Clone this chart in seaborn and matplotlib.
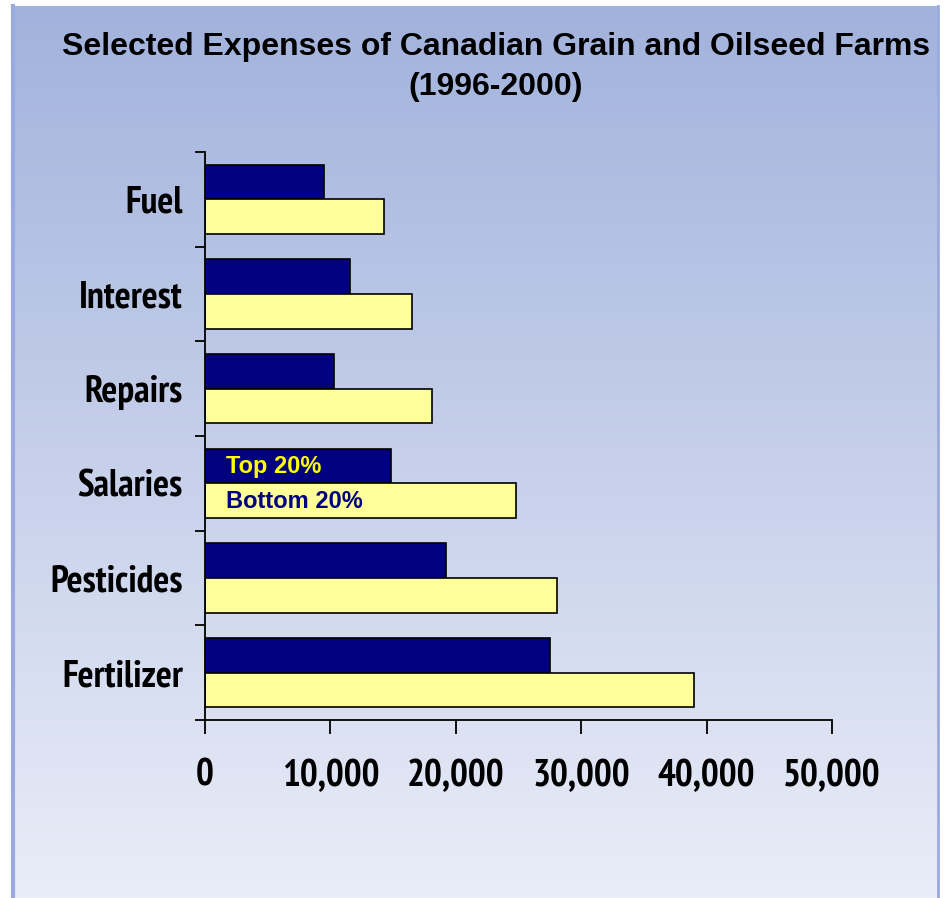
import numpy as np
import pandas as pd
import matplotlib
matplotlib.use("Agg")
import matplotlib.pyplot as plt
from matplotlib import font_manager as fm
from matplotlib.ticker import FuncFormatter, FixedLocator
from matplotlib.colors import LinearSegmentedColormap
import seaborn as sns

categories = ["Fuel", "Interest", "Repairs", "Salaries", "Pesticides", "Fertilizer"]
top20 = [9500, 11600, 10300, 14800, 19200, 27500]
bottom20 = [14300, 16500, 18100, 24800, 28100, 39000]
series_names = ["Top 20%", "Bottom 20%"]
x_ticks = [0, 10000, 20000, 30000, 40000, 50000]
title = "Selected Expenses of Canadian Grain and Oilseed Farms\n(1996-2000)"

df = pd.DataFrame({
    "category": categories * 2,
    "value": top20 + bottom20,
    "series": [series_names[0]] * len(categories) + [series_names[1]] * len(categories),
})

sns.set_theme(style="white")
plt.rcParams["font.family"] = ["Liberation Sans", "DejaVu Sans"]

# find a condensed bold font if available
cond_file = None
for f in fm.fontManager.ttflist:
    n = f.name.lower()
    st = str(f.stretch).lower()
    if f.weight in (700, "bold") and ("narrow" in n or "condensed" in n or "condensed" in st):
        cond_file = f.fname
        if "narrow" in n:
            break
if cond_file:
    tick_fp = fm.FontProperties(fname=cond_file, size=27)
else:
    tick_fp = fm.FontProperties(family="Liberation Sans", weight="bold", size=21)

W, H = 946, 898
fig = plt.figure(figsize=(W / 100, H / 100), dpi=100)
fig.patch.set_facecolor("white")

bg = fig.add_axes([13 / W, 0, (938 - 13) / W, (898 - 6) / H], zorder=0)
cmap = LinearSegmentedColormap.from_list("bg", ["#a2b2dc", "#e9edf8"])
grad = np.linspace(0, 1, 256).reshape(-1, 1)
bg.imshow(grad, aspect="auto", cmap=cmap, extent=[0, 1, 0, 1], origin="upper")
bg.set_xlim(0, 1); bg.set_ylim(0, 1)
bg.set_xticks([]); bg.set_yticks([])
for s in bg.spines.values():
    s.set_visible(False)
for s, lw in (("left", 3), ("right", 2)):
    bg.spines[s].set_visible(True)
    bg.spines[s].set_color("#9aaade")
    bg.spines[s].set_linewidth(lw)

ax = fig.add_axes([205 / W, 1 - 720 / H, (832 - 205) / W, (720 - 152) / H], zorder=1)
ax.patch.set_alpha(0)

sns.barplot(data=df, y="category", x="value", hue="series", order=categories,
            hue_order=series_names, palette=["#000080", "#ffff99"], width=0.73,
            edgecolor="black", linewidth=1.2, saturation=1, ax=ax, legend=False)

ax.set_xlim(0, 50000)
ax.set_ylim(len(categories) - 0.5, -0.5)
ax.set_xlabel(""); ax.set_ylabel("")
ax.set_xticks(x_ticks)
ax.xaxis.set_major_formatter(FuncFormatter(lambda v, p: f"{int(v):,}"))
ax.yaxis.set_minor_locator(FixedLocator(np.arange(-0.5, len(categories), 1.0)))

for lab in ax.get_xticklabels() + ax.get_yticklabels():
    lab.set_fontproperties(tick_fp)

ax.tick_params(axis="x", which="major", direction="out", length=10, width=1.3,
               color="black", pad=18, bottom=True, labelcolor="black")
ax.tick_params(axis="y", which="major", length=0, pad=16, left=True, labelcolor="black")
ax.tick_params(axis="y", which="minor", direction="out", length=7, width=1.3,
               color="black", left=True)

for s in ["top", "right"]:
    ax.spines[s].set_visible(False)
for s in ["left", "bottom"]:
    ax.spines[s].set_color("black")
    ax.spines[s].set_linewidth(1.3)

ax.text(1700, 3 - 0.18, series_names[0], color="#ffff00", fontsize=17,
        fontweight="bold", va="center", ha="left")
ax.text(1700, 3 + 0.19, series_names[1], color="#000080", fontsize=17,
        fontweight="bold", va="center", ha="left")

fig.text(496 / W, 1 - 67 / H, title, ha="center", va="center", fontsize=23,
         fontweight="bold", color="black", linespacing=1.45)

fig.savefig("out.png", dpi=100)
